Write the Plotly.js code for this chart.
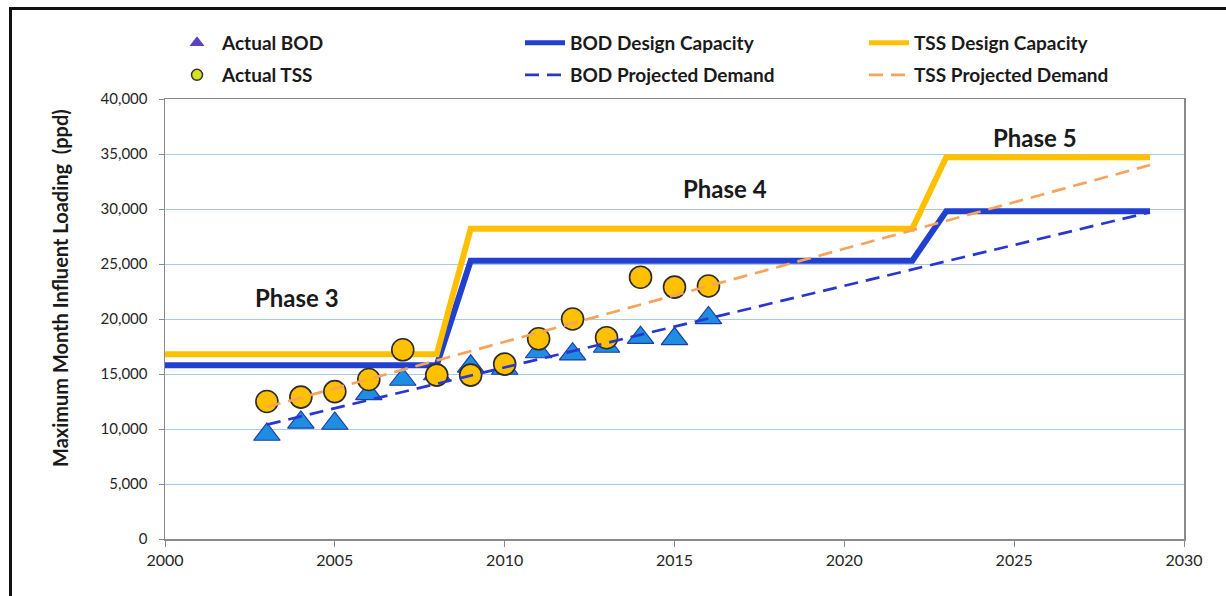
<!DOCTYPE html>
<html>
<head>
<meta charset="utf-8">
<script src="https://cdn.plot.ly/plotly-3.0.1.min.js"></script>
<style>
  html, body { margin: 0; padding: 0; background: #ffffff; }
  #wrap { position: relative; width: 1226px; height: 596px; }
  #chart { position: absolute; left: 0; top: 0; width: 1226px; height: 596px; }
  #frame { position: absolute; left: 9px; top: 7px; right: 0; bottom: 0;
           border-top: 3px solid #111; border-left: 3px solid #111; pointer-events: none; }
</style>
</head>
<body>
<div id="wrap">
  <div id="chart"></div>
  <div id="frame"></div>
</div>
<script>
// ---- data ----
var actualYears = [2003, 2004, 2005, 2006, 2007, 2008, 2009, 2010, 2011, 2012, 2013, 2014, 2015, 2016];
var actualBOD   = [9500, 10600, 10500, 13200, 14500, 15000, 15700, 15500, 17000, 16800, 17500, 18300, 18200, 20100];
var actualTSS   = [12500, 12900, 13400, 14500, 17200, 14900, 14900, 15900, 18200, 20000, 18300, 23800, 22900, 23000];

var capacityYears  = [2000, 2008, 2009, 2022, 2023, 2029];
var bodCapacity    = [15800, 15800, 25300, 25300, 29800, 29800];
var tssCapacity    = [16800, 16800, 28200, 28200, 34700, 34700];

var projectedYears = [2003, 2029];
var bodProjected   = [10400, 29700];
var tssProjected   = [12000, 34000];

var phaseLabels = ["Phase 3", "Phase 4", "Phase 5"];
var phaseX      = [2003.9, 2016.5, 2025.6];
var phaseY      = [22000, 31900, 36500];

var yTickVals = [0, 5000, 10000, 15000, 20000, 25000, 30000, 35000, 40000];
var xTickVals = [2000, 2005, 2010, 2015, 2020, 2025, 2030];

var yTitle = "Maximum Month Influent Loading  (ppd)";

// ---- styles ----
var FONT = "Lato, 'Open Sans', sans-serif";
var BLUE_CAP = "#2140cf";
var GOLD = "#ffc000";
var BLUE_DASH = "#2a36d0";
var ORANGE_DASH = "#f7a35c";
var DASH = "14px,8px";

var traces = [
  { x: capacityYears, y: bodCapacity, mode: "lines", showlegend: false,
    line: { color: BLUE_CAP, width: 6 }, hoverinfo: "skip" },
  { x: capacityYears, y: tssCapacity, mode: "lines", showlegend: false,
    line: { color: GOLD, width: 6 }, hoverinfo: "skip" },
  { x: actualYears, y: actualBOD, mode: "markers", showlegend: false,
    marker: { symbol: "triangle-up", size: 23, color: "#1f8de0", line: { color: "#1d3fa6", width: 1.2 } } },
  { x: actualYears, y: actualTSS, mode: "markers", showlegend: false,
    marker: { symbol: "circle", size: 22, color: GOLD, line: { color: "#2b2b2b", width: 1.6 } } },
  { x: projectedYears, y: bodProjected, mode: "lines", showlegend: false,
    line: { color: BLUE_DASH, width: 2.7, dash: DASH } },
  { x: projectedYears, y: tssProjected, mode: "lines", showlegend: false,
    line: { color: ORANGE_DASH, width: 2.7, dash: DASH } },

  // legend entries: one small legend per cell of the 3 x 2 legend grid
  { x: [null], y: [null], mode: "markers", name: "Actual BOD", legend: "legend",
    marker: { symbol: "triangle-up", size: 13, color: "#5b3fc4", line: { width: 0 } } },
  { x: [null], y: [null], mode: "lines", name: "BOD Design Capacity", legend: "legend2",
    line: { color: BLUE_CAP, width: 5 } },
  { x: [null], y: [null], mode: "lines", name: "TSS Design Capacity", legend: "legend3",
    line: { color: GOLD, width: 5 } },
  { x: [null], y: [null], mode: "markers", name: "Actual TSS", legend: "legend4",
    marker: { symbol: "circle", size: 11, color: "#d6e21c", line: { color: "#333", width: 1.5 } } },
  { x: [null], y: [null], mode: "lines", name: "BOD Projected Demand", legend: "legend5",
    line: { color: BLUE_DASH, width: 2.7, dash: DASH } },
  { x: [null], y: [null], mode: "lines", name: "TSS Projected Demand", legend: "legend6",
    line: { color: ORANGE_DASH, width: 2.7, dash: DASH } }
];

function legendAt(px, py) {
  return {
    orientation: "v", xref: "container", yref: "container",
    xanchor: "left", yanchor: "middle", x: px / 1226, y: 1 - py / 596,
    itemwidth: 40,
    font: { family: FONT, size: 19, color: "#1a1a1a", weight: "bold" },
    bgcolor: "rgba(0,0,0,0)", borderwidth: 0, itemclick: false, itemdoubleclick: false
  };
}

var annotations = phaseLabels.map(function (t, i) {
  return { x: phaseX[i], y: phaseY[i], xref: "x", yref: "y", text: t, showarrow: false,
           font: { family: FONT, size: 24, color: "#1a1a1a", weight: "bold" } };
});
// plot area spans x 165..1184 px and y 99..539 px
annotations.push({
  xref: "paper", yref: "paper", x: (60 - 165) / (1184 - 165), y: (539 - 288) / (539 - 99),
  xanchor: "center", yanchor: "middle",
  text: yTitle, textangle: -90, showarrow: false,
  font: { family: FONT, size: 20, color: "#1a1a1a", weight: "bold" }
});

var layout = {
  width: 1226, height: 596,
  margin: { l: 165, r: 42, t: 99, b: 57, autoexpand: false },
  paper_bgcolor: "#ffffff", plot_bgcolor: "#ffffff",
  showlegend: true,
  legend:  legendAt(172, 43),
  legend2: legendAt(520, 43),
  legend3: legendAt(864, 43),
  legend4: legendAt(172, 75),
  legend5: legendAt(520, 75),
  legend6: legendAt(864, 75),
  xaxis: {
    range: [2000, 2030], tickvals: xTickVals, ticktext: xTickVals.map(String),
    showgrid: false, zeroline: false,
    showline: true, mirror: true, linecolor: "#8a8a8a", linewidth: 1.5,
    ticks: "outside", ticklen: 6, tickcolor: "#8a8a8a",
    tickfont: { family: FONT, size: 16, color: "#262626" }
  },
  yaxis: {
    range: [0, 40000], tickvals: yTickVals, tickformat: ",d",
    showgrid: true, gridcolor: "#a9cbea", gridwidth: 1, zeroline: false,
    showline: true, mirror: true, linecolor: "#8a8a8a", linewidth: 1.5,
    ticks: "outside", ticklen: 5, tickcolor: "#8a8a8a", ticklabelstandoff: 8,
    tickfont: { family: FONT, size: 15, color: "#262626" }
  },
  annotations: annotations
};

Plotly.newPlot("chart", traces, layout, { displayModeBar: false, staticPlot: true });
</script>
</body>
</html>
